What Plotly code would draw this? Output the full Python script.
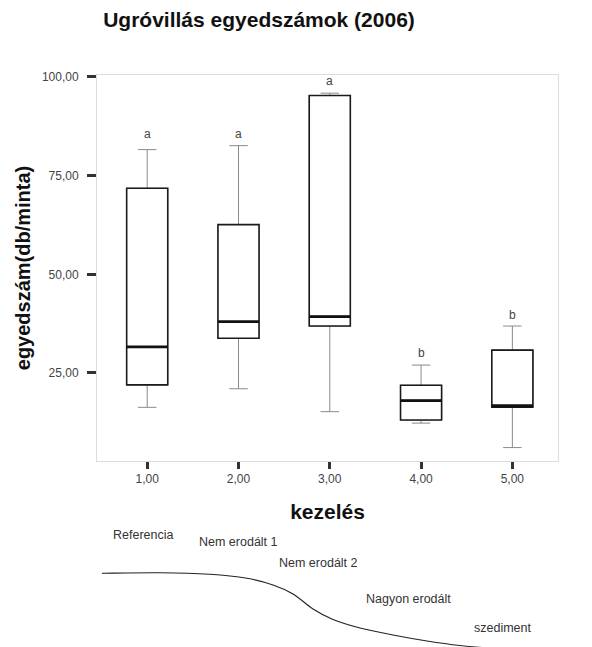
import plotly.graph_objects as go

# Treatments and box statistics (individuals per sample)
treatments = [1, 2, 3, 4, 5]
lower_whisker = [16.3, 21.0, 15.2, 12.3, 6.1]
q1 = [22.0, 33.8, 36.9, 13.1, 16.3]
median = [31.6, 38.0, 39.3, 18.0, 16.7]
q3 = [71.8, 62.6, 95.3, 21.9, 30.8]
upper_whisker = [81.6, 82.6, 95.9, 27.0, 36.9]
group_letters = ["a", "a", "a", "b", "b"]
letter_y = [84.2, 84.2, 97.6, 28.9, 38.4]

y_ticks = [25, 50, 75, 100]

# Landscape profile along the treatments
site_labels = ["Referencia", "Nem erodált 1", "Nem erodált 2", "Nagyon erodált", "szediment"]
site_label_px = [(143, 535), (238, 542), (318, 563), (408, 599), (502, 628)]
profile_px = [(102, 573.3), (160, 572.7), (210, 574.3), (247, 578.3), (273, 585),
              (293, 594), (313, 609), (333, 619.5), (360, 628), (393, 635),
              (427, 641), (460, 645.5), (500, 649)]

W, H = 592, 647
L, R, T, B = 97, 34, 75, 186
pw, ph = W - L - R, H - T - B


def to_paper(px, py):
    return (px - L) / pw, (H - B - py) / ph


fig = go.Figure()

# Whiskers: thin grey lines with caps
fig.add_trace(go.Box(
    x=treatments, q1=q1, median=median, q3=q3,
    lowerfence=lower_whisker, upperfence=upper_whisker,
    fillcolor="white", line=dict(color="#8a8a8a", width=1),
    whiskerwidth=0.45, width=0.45, boxpoints=False, hoverinfo="skip",
    showlegend=False,
))
# Boxes: heavier black outline
fig.add_trace(go.Box(
    x=treatments, q1=q1, median=median, q3=q3,
    lowerfence=q1, upperfence=q3,
    fillcolor="white", line=dict(color="#1a1a1a", width=1.6),
    whiskerwidth=0, width=0.45, boxpoints=False,
    showlegend=False,
))
# Thick median lines
for xv, m in zip(treatments, median):
    fig.add_shape(type="line", xref="x", yref="y", x0=xv - 0.225, x1=xv + 0.225,
                  y0=m, y1=m, line=dict(color="#111", width=2.8))

# Group letters
for xv, lt, ly in zip(treatments, group_letters, letter_y):
    fig.add_annotation(x=xv, y=ly, text=lt, showarrow=False, xref="x", yref="y",
                       font=dict(size=12, color="#444"), yanchor="bottom", yshift=-4)

# Site labels below the axis
for txt, (px, py) in zip(site_labels, site_label_px):
    xp, yp = to_paper(px, py)
    fig.add_annotation(x=xp, y=yp, xref="paper", yref="paper", text=txt, showarrow=False,
                       font=dict(size=12.5, color="#333"), xanchor="center", yanchor="middle")

# Smooth profile curve (Catmull-Rom to cubic Bezier)
pts = [to_paper(px, py) for px, py in profile_px]
path = f"M {pts[0][0]:.5f},{pts[0][1]:.5f}"
for i in range(len(pts) - 1):
    p0 = pts[i - 1] if i > 0 else pts[i]
    p1, p2 = pts[i], pts[i + 1]
    p3 = pts[i + 2] if i + 2 < len(pts) else pts[i + 1]
    c1 = (p1[0] + (p2[0] - p0[0]) / 6, p1[1] + (p2[1] - p0[1]) / 6)
    c2 = (p2[0] - (p3[0] - p1[0]) / 6, p2[1] - (p3[1] - p1[1]) / 6)
    path += f" C {c1[0]:.5f},{c1[1]:.5f} {c2[0]:.5f},{c2[1]:.5f} {p2[0]:.5f},{p2[1]:.5f}"
fig.add_shape(type="path", xref="paper", yref="paper", path=path,
              line=dict(color="#222", width=1.1))

fig.update_layout(
    width=W, height=H,
    margin=dict(l=L, r=R, t=T, b=B),
    paper_bgcolor="white", plot_bgcolor="white",
    separators=",.",
    font=dict(family="Liberation Sans, Arial, sans-serif", color="#333"),
    title=dict(text="<b>Ugróvillás egyedszámok (2006)</b>", x=259 / W, xanchor="center",
               y=1 - 20 / H, yanchor="middle", font=dict(size=21, color="#111")),
    xaxis=dict(
        range=[0.45, 5.5], tickvals=treatments, ticktext=[f"{t},00" for t in treatments],
        ticks="outside", ticklen=7, tickwidth=3, tickcolor="#333",
        showline=True, linecolor="#dcdcdc", linewidth=1, mirror=True,
        showgrid=False, zeroline=False, tickfont=dict(size=12, color="#444"),
        title=dict(text="<b>kezelés</b>", font=dict(size=21, color="#111"), standoff=18),
    ),
    yaxis=dict(
        range=[2.7, 100.5], tickvals=y_ticks, tickformat=".2f",
        ticks="outside", ticklen=9, tickwidth=3, tickcolor="#333",
        showline=True, linecolor="#dcdcdc", linewidth=1, mirror=True,
        showgrid=False, zeroline=False, tickfont=dict(size=12, color="#444"),
        ticklabelstandoff=6,
        title=dict(text="<b>egyedszám(db/minta)</b>", font=dict(size=20, color="#111"), standoff=5),
    ),
)

fig.write_html("out.html")
